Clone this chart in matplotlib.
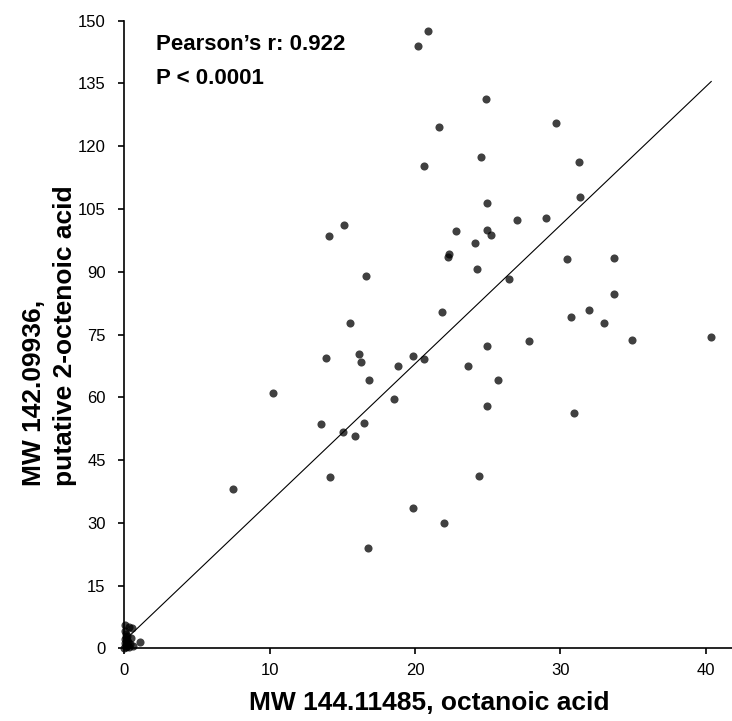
import matplotlib
matplotlib.use("Agg")
import matplotlib.pyplot as plt
import numpy as np

plt.rcParams['font.family'] = ['Liberation Sans', 'DejaVu Sans']

# octanoic acid (x) vs putative 2-octenoic acid (y)
octanoic = [
    20.2, 20.9, 20.6, 15.1, 14.1, 16.6, 15.5, 24.9, 21.65, 29.7,
    24.56, 31.28, 24.95, 31.35, 27.03, 28.99, 22.79, 24.97, 25.2, 24.12,
    22.35, 22.29, 24.24, 26.48, 30.45, 33.67, 33.71, 21.87, 30.71, 31.99,
    32.98, 13.87, 16.14, 16.28, 19.86, 20.58, 18.84, 16.83, 10.24, 18.53,
    13.52, 15.04, 16.46, 15.88, 14.16, 7.45, 19.86, 16.74, 24.97, 27.82,
    34.93, 40.37, 23.62, 25.73, 24.95, 30.94, 24.38, 22.01,
    # cluster near the origin
    0.02, 0.05, 0.1, 0.3, 0.5, 0.08, 0.15, 0.25, 0.4, 0.05,
    0.2, 0.1, 0.3, 0.0, 0.6, 1.07, 0.03, 0.12, 0.45, 0.2,
]
octenoic = [
    144.0, 147.5, 115.3, 101.2, 98.6, 88.9, 77.7, 131.3, 124.7, 125.6,
    117.4, 116.2, 106.5, 107.8, 102.4, 102.8, 99.8, 100.0, 98.7, 96.9,
    94.2, 93.5, 90.7, 88.3, 93.0, 93.4, 84.8, 80.3, 79.2, 80.9,
    77.8, 69.5, 70.3, 68.4, 69.9, 69.1, 67.4, 64.1, 61.0, 59.5,
    53.6, 51.6, 53.8, 50.7, 40.9, 38.1, 33.5, 24.0, 72.3, 73.5,
    73.7, 74.3, 67.5, 64.1, 57.8, 56.3, 41.3, 29.9,
    5.5, 4.2, 3.5, 5.0, 4.8, 2.8, 2.0, 1.5, 1.0, 1.2,
    0.6, 0.3, 0.2, 0.0, 0.5, 1.4, 2.3, 0.9, 2.5, 3.0,
]

# linear trendline as drawn in the figure
fit_slope = 3.31
fit_intercept = 1.84
pearson_text = "Pearson\u2019s r: 0.922"
p_text = "P < 0.0001"

x = np.array(octanoic)
y = np.array(octenoic)

fig = plt.figure(figsize=(7.32, 7.21), dpi=100)
ax = fig.add_axes([0.170, 0.1008, 0.830, 0.8705])

ax.scatter(x, y, s=34, color='black', alpha=0.75, linewidths=0, zorder=3, clip_on=False)

xl = np.array([x.min(), x.max()])
ax.plot(xl, fit_slope * xl + fit_intercept, color='black', lw=0.8, zorder=2)

ax.set_xlim(0, 41.8)
ax.set_ylim(0, 150)
ax.set_xticks(np.arange(0, 41, 10))
ax.set_yticks(np.arange(0, 151, 15))

for side in ['top', 'right']:
    ax.spines[side].set_visible(False)
for side in ['left', 'bottom']:
    ax.spines[side].set_linewidth(1.2)
    ax.spines[side].set_color('black')
ax.tick_params(direction='out', length=4.5, width=1.2, labelsize=12)
ax.tick_params(axis='x', pad=6)
ax.tick_params(axis='y', pad=9)

fig.text(0.213, 0.9307, pearson_text, fontsize=16, fontweight='bold', va='baseline')
fig.text(0.213, 0.8835, p_text, fontsize=16, fontweight='bold', va='baseline')

fig.text(0.068, 0.326, "MW 142.09936,\nputative 2-octenoic acid", rotation=90,
         ha='center', va='bottom', multialignment='left', fontsize=19,
         fontweight='bold', linespacing=1.35)
fig.text(0.587, 0.0155, "MW 144.11485, octanoic acid", ha='center', va='baseline',
         fontsize=19, fontweight='bold')

fig.savefig('out.png', dpi=100)
